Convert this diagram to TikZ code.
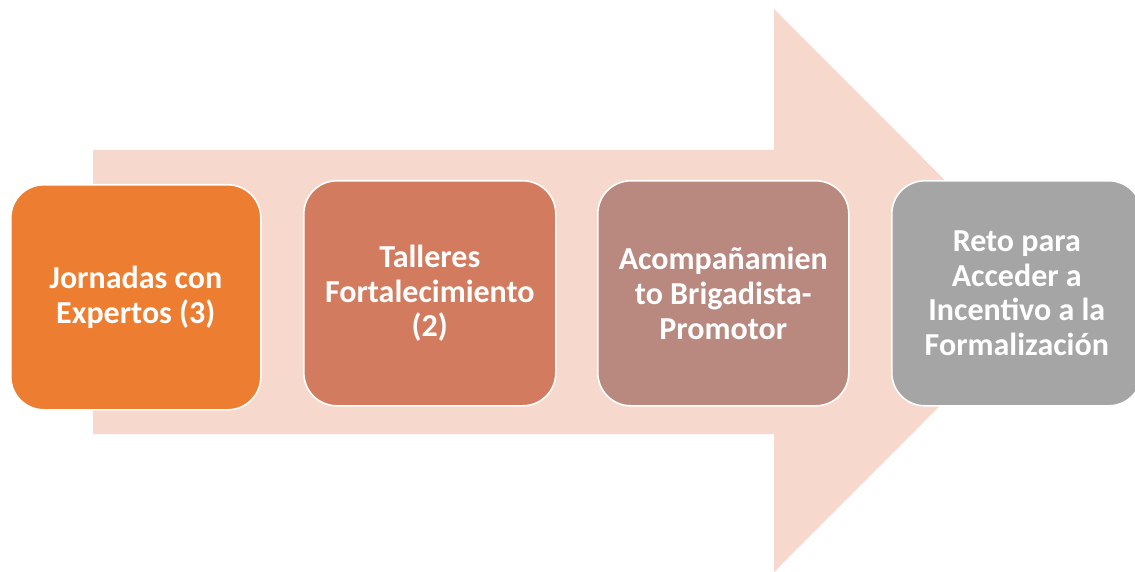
\documentclass[tikz,border=0pt]{standalone}
\usepackage{fontspec}
\setmainfont{Carlito}
\definecolor{arrowpink}{RGB}{247,216,205}
\definecolor{boxA}{RGB}{237,125,49}
\definecolor{boxB}{RGB}{210,123,94}
\definecolor{boxC}{RGB}{185,137,128}
\definecolor{boxD}{RGB}{165,165,165}
\begin{document}
\begin{tikzpicture}[x=1pt,y=-1pt,
  stepbox/.style={draw=white,line width=1.6pt,rounded corners=33pt,
    minimum width=250pt,minimum height=225pt,anchor=north west,
    align=center,text=white,
    font=\fontsize{32}{34.8}\selectfont\bfseries,inner sep=0pt}]
\useasboundingbox (0,0) rectangle (1135,572);
\fill[arrowpink] (93,150) -- (774,150) -- (774,9) -- (1055,290.5) -- (774,572) -- (774,434) -- (93,434) -- cycle;
\node[stepbox,fill=boxA] (j) at (10,184) {Jornadas con\\Expertos (3)};
\node[stepbox,fill=boxB,minimum width=252pt] (t) at (303,180) {Talleres\\Fortalecimiento\\(2)};
\node[stepbox,fill=boxC,minimum width=251pt] (a) at (597,180) {Acompañamien\\to Brigadista-\\Promotor};
\node[stepbox,fill=boxD] (r) at (891,180) {Reto para\\Acceder a\\Incentivo a la\\Formalización};
\end{tikzpicture}
\end{document}
